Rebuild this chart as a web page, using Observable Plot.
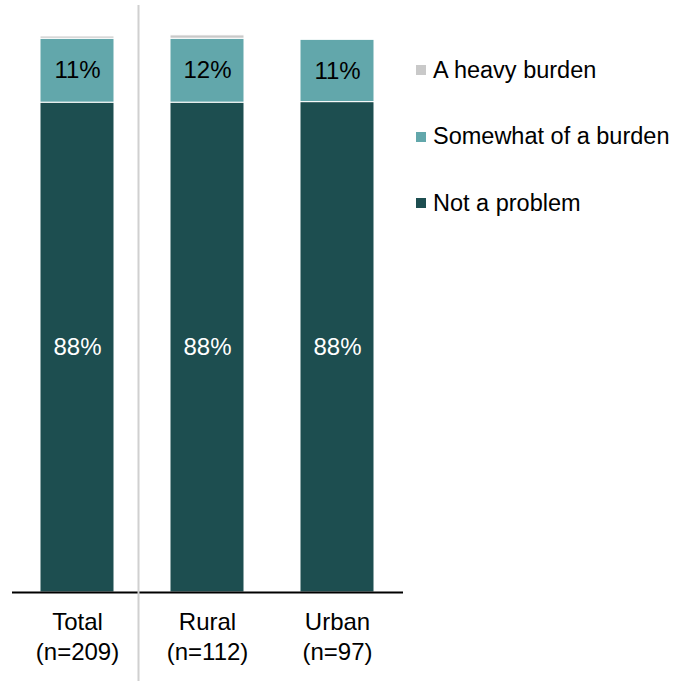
<!DOCTYPE html>
<html>
<head>
<meta charset="utf-8">
<script src="https://cdn.jsdelivr.net/npm/d3@7"></script>
<script src="https://cdn.jsdelivr.net/npm/@observablehq/plot@0.6"></script>
<style>
  html, body { margin: 0; padding: 0; background: #fff; }
  #wrap { position: relative; width: 674px; height: 681px; font-family: "Liberation Sans", Arial, sans-serif; }
  #legend { position: absolute; left: 416px; top: 0; }
  .row { position: absolute; left: 0; white-space: nowrap; display: flex; align-items: center; height: 30px; font-size: 23.5px; color: #000; }
  .sw { width: 10px; height: 10px; margin-right: 7px; flex: none; }
</style>
</head>
<body>
<div id="wrap"></div>
<script>
const groups = ["Total", "Rural", "Urban"];
const groupLabels = ["Total\n(n=209)", "Rural\n(n=112)", "Urban\n(n=97)"];
const categories = ["Not a problem", "Somewhat of a burden", "A heavy burden"];
const colors = ["#1d4e50", "#62a7ab", "#c9c9c9"];
const notAProblem = [88.1, 88.1, 88.2];
const somewhat = [11.5, 11.5, 11.2];
const heavy = [0.4, 0.6, 0];
const labelValues = [[88, 88, 88], [11, 12, 11]];

const series = [notAProblem, somewhat, heavy];
const data = [];
categories.forEach((c, ci) => groups.forEach((g, gi) => {
  data.push({group: g, cat: c, value: series[ci][gi], label: ci < 2 ? labelValues[ci][gi] + "%" : ""});
}));
const labelMap = new Map(groups.map((g, i) => [g, groupLabels[i]]));

const chart = Plot.plot({
  width: 674,
  height: 681,
  marginLeft: 12,
  marginRight: 271,
  marginTop: 36,
  marginBottom: 89,
  style: {fontFamily: "Liberation Sans, Arial, sans-serif", background: "white", color: "#000"},
  x: {domain: groups, paddingInner: 0.43, paddingOuter: 0.215, label: null},
  y: {domain: [0, 100], axis: null},
  color: {domain: categories, range: colors},
  marks: [
    Plot.barY(data, {x: "group", y: "value", fill: "cat", order: null, stroke: "white", strokeWidth: 1}),
    Plot.text(data, Plot.stackY({x: "group", y: "value", order: null, text: "label",
      fill: d => d.cat === categories[0] ? "white" : "black", fontSize: 24})),
    Plot.ruleY([0], {stroke: "black", strokeWidth: 2}),
    Plot.axisX({tickSize: 0, tickPadding: 17, fontSize: 24, lineHeight: 1.22,
      tickFormat: g => labelMap.get(g), fill: "#000"}),
    Plot.ruleX(["Total"], {dx: 61, stroke: "#d0d0d0", strokeWidth: 2, insetTop: -31, insetBottom: -89})
  ]
});

const wrap = document.getElementById("wrap");
wrap.appendChild(chart);

const legend = document.createElement("div");
legend.id = "legend";
const rowCenters = [70, 136.5, 203];
categories.slice().reverse().forEach((c, i) => {
  const row = document.createElement("div");
  row.className = "row";
  row.style.top = (rowCenters[i] - 15) + "px";
  const sw = document.createElement("span");
  sw.className = "sw";
  sw.style.background = colors[categories.indexOf(c)];
  const t = document.createElement("span");
  t.textContent = c;
  row.appendChild(sw);
  row.appendChild(t);
  legend.appendChild(row);
});
wrap.appendChild(legend);
chart.style.position = "absolute";
chart.style.left = "0";
chart.style.top = "0";
</script>
</body>
</html>
